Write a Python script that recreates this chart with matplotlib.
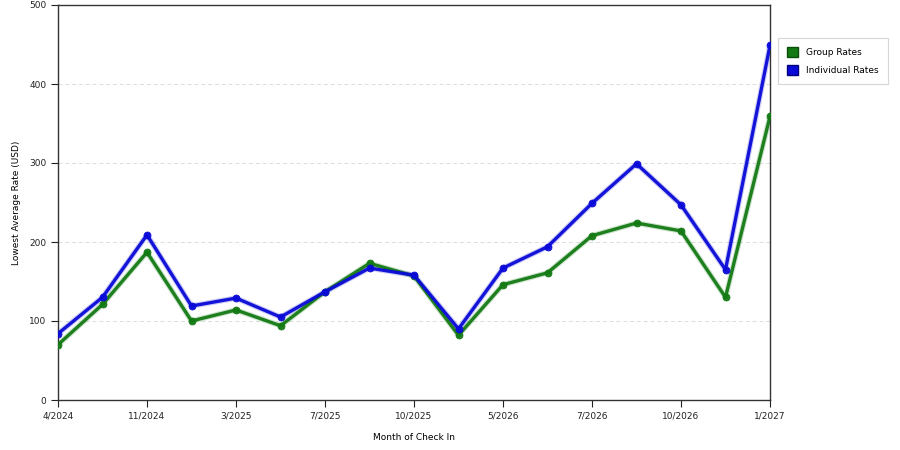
import numpy as np
import matplotlib
matplotlib.use('Agg')
import matplotlib.pyplot as plt
from matplotlib.patches import Patch

# values
months = ['4/2024', '', '11/2024', '', '3/2025', '', '7/2025', '', '10/2025',
          '', '5/2026', '', '7/2026', '', '10/2026', '', '1/2027']
group_rates = [70, 121, 187, 100, 114, 94, 137, 173, 157, 82, 146, 161,
               208, 224, 214, 130, 359]
indiv_rates = [84, 130, 209, 119, 129, 105, 137, 167, 158, 90, 167, 194,
               249, 299, 247, 165, 449]

GREEN = '#137a13'
BLUE = '#0a0ad8'

plt.rcParams['font.family'] = ['DejaVu Sans']
fig = plt.figure(figsize=(9, 4.5), dpi=100)
ax = fig.add_axes([58 / 900, 50 / 450, 712 / 900, 395 / 450])

x = np.arange(len(months))
for y, col in ((group_rates, GREEN), (indiv_rates, BLUE)):
    # soft halo under line, like the reference rendering
    ax.plot(x, y, color=col, lw=4, alpha=0.2, solid_capstyle='round', zorder=2)
    ax.plot(x, y, color=col, lw=2.4, marker='o', ms=5, mfc=col,
            mec=col, mew=0.6, alpha=0.95, zorder=3)

ax.set_xlim(0, len(months) - 1)
ax.set_ylim(0, 500)
ticks = [i for i, m in enumerate(months) if m]
ax.set_xticks(ticks)
ax.set_xticklabels([months[i] for i in ticks])
ax.set_yticks([0, 100, 200, 300, 400, 500])
ax.tick_params(labelsize=6.5, length=5, colors='#222222')
ax.yaxis.grid(True, ls=(0, (4, 3)), color='#dcdcdc', lw=0.7)
ax.set_axisbelow(True)
for s in ax.spines.values():
    s.set_color('#333333')
    s.set_linewidth(1)

ax.set_xlabel('Month of Check In', fontsize=6.5, labelpad=8.5)
ax.set_ylabel('Lowest Average Rate (USD)', fontsize=6.5, labelpad=6)

handles = [Patch(facecolor=GREEN, edgecolor='#0b4d0b', label='Group Rates'),
           Patch(facecolor=BLUE, edgecolor='#00007a', label='Individual Rates')]
leg = fig.legend(handles=handles, loc='upper left',
                 bbox_to_anchor=(778 / 900, 1 - 38 / 450), fontsize=6.5,
                 frameon=True, fancybox=False, handlelength=1.2,
                 handleheight=1.3, borderpad=1.0, labelspacing=0.9,
                 handletextpad=0.9, borderaxespad=0)
leg.get_frame().set_edgecolor('#cccccc')
leg.get_frame().set_linewidth(0.8)

fig.savefig('out.png', dpi=100)
